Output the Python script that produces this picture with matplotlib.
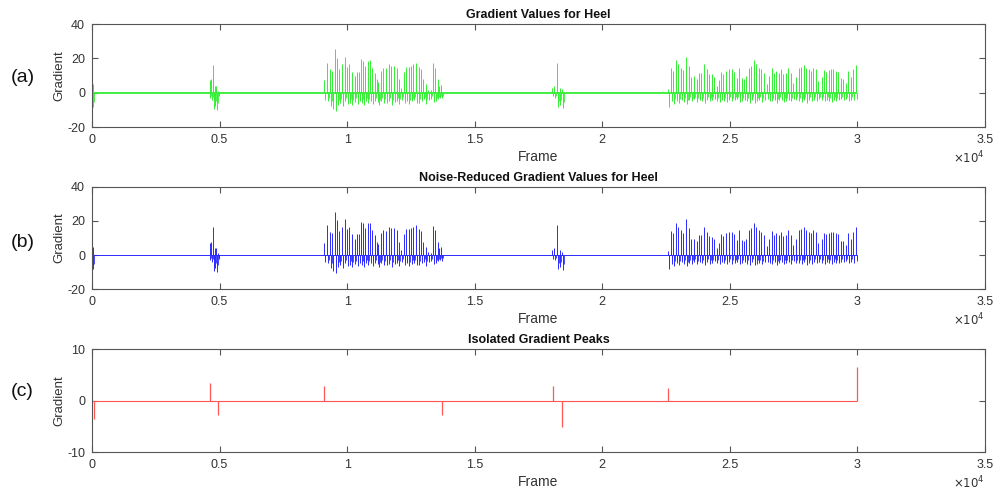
import numpy as np
import matplotlib
matplotlib.use("Agg")
import matplotlib.pyplot as plt

plt.rcParams['font.family'] = ['Liberation Sans', 'DejaVu Sans']

# ---- heel gradient data (frame, positive peak, negative dip) ----
n_frames = 30000

start_frames = [27]
start_peaks = [5.0]
start_dips = [8.4]

cluster1_frames = [4612, 4677, 4742, 4808, 4873, 4938]
cluster1_peaks = [7.2, 7.8, 16.2, 3.9, 3.9, 1.0]
cluster1_dips = [3.0, 4.0, 9.2, 7.8, 9.7, 2.0]

burst1_frames = [9093, 9223, 9341, 9406, 9524, 9615, 9693, 9798, 9903, 9994,
                 10085, 10177, 10294, 10386, 10464, 10556, 10621, 10713, 10804, 10895,
                 10974, 11078, 11169, 11222, 11313, 11417, 11522, 11626, 11731, 11835,
                 11940, 12018, 12123, 12227, 12306, 12410, 12515, 12593, 12698, 12802,
                 12893, 12985, 13076, 13168, 13272, 13364, 13455, 13547, 13612, 13690]
burst1_peaks = [7.2, 17.5, 13.6, 12.7, 25.3, 20.5, 14.0, 16.6, 20.9, 15.0,
                16.6, 12.3, 9.7, 12.1, 12.1, 19.5, 18.5, 15.6, 18.5, 18.9,
                14.6, 11.7, 7.8, 6.2, 12.7, 14.6, 14.2, 16.6, 15.6, 15.6,
                14.6, 7.8, 2.9, 12.1, 15.0, 15.0, 15.6, 16.6, 17.5, 15.0,
                14.0, 7.8, 4.9, 1.9, 1.5, 17.2, 14.6, 7.8, 3.9, 4.5]
burst1_dips = [3.9, 4.9, 7.8, 9.2, 10.7, 7.2, 5.8, 7.8, 4.9, 6.4,
               5.8, 7.2, 5.3, 6.4, 4.9, 5.8, 7.2, 4.9, 5.8, 4.9,
               6.4, 4.9, 5.3, 7.2, 4.9, 5.8, 6.0, 5.0, 6.8, 5.2,
               4.6, 6.2, 4.0, 5.6, 4.8, 6.6, 5.0, 4.4, 5.8, 6.0,
               4.5, 3.8, 6.2, 4.0, 3.5, 5.4, 4.6, 3.6, 3.0, 3.2]

cluster2_frames = [18030, 18120, 18236, 18330, 18430]
cluster2_peaks = [3.0, 4.0, 17.5, 3.0, 2.0]
cluster2_dips = [2.0, 3.0, 8.0, 7.0, 9.0]

burst2_frames = [22574, 22692, 22783, 22887, 22979, 23083, 23175, 23292, 23384, 23488,
                 23580, 23697, 23789, 23880, 23985, 24089, 24194, 24285, 24377, 24481,
                 24573, 24651, 24742, 24847, 24951, 25069, 25173, 25265, 25356, 25461,
                 25552, 25644, 25748, 25840, 25944, 26035, 26127, 26231, 26336, 26453,
                 26532, 26636, 26728, 26819, 26911, 27002, 27093, 27185, 27276, 27381,
                 27472, 27577, 27694, 27799, 27890, 27982, 28086, 28178, 28269, 28374,
                 28465, 28596, 28687, 28779, 28870, 28962, 29053, 29144, 29236, 29341,
                 29432, 29536, 29628, 29732, 29824, 29941]
burst2_peaks = [2.5, 14.2, 12.7, 18.9, 16.6, 14.6, 13.1, 21.0, 15.6, 9.2,
                9.7, 8.2, 11.7, 11.7, 16.6, 13.6, 11.1, 10.7, 9.2, 3.9,
                7.2, 12.3, 11.1, 12.7, 13.6, 13.6, 12.1, 8.8, 14.6, 8.8,
                8.2, 9.7, 14.6, 15.6, 18.9, 16.6, 14.6, 13.6, 11.7, 5.3,
                9.7, 14.2, 11.7, 12.7, 11.7, 13.6, 11.1, 11.7, 14.6, 11.7,
                5.8, 9.2, 14.6, 15.0, 16.2, 14.6, 13.6, 12.7, 14.6, 13.6,
                6.8, 9.2, 13.1, 12.1, 13.1, 13.6, 13.6, 12.7, 12.1, 8.4,
                8.2, 5.8, 12.7, 9.2, 13.6, 16.2]
burst2_dips = [8.4, 5.0, 6.2, 4.5, 5.6, 4.0, 5.2, 6.6, 4.4, 5.0,
               3.8, 5.4, 4.2, 4.8, 5.6, 4.0, 5.0, 4.4, 3.6, 4.6,
               5.2, 4.0, 4.8, 5.4, 4.2, 5.0, 4.4, 3.8, 5.2, 4.6,
               4.0, 5.0, 5.6, 4.2, 6.0, 5.0, 4.4, 5.4, 4.0, 3.8,
               4.6, 5.0, 4.2, 5.6, 4.4, 4.0, 5.2, 4.6, 4.0, 5.0,
               3.6, 4.4, 4.8, 5.2, 4.0, 5.6, 4.4, 5.0, 4.2, 4.6,
               3.8, 4.4, 5.0, 4.2, 4.8, 5.4, 4.0, 4.6, 4.4, 3.8,
               4.0, 3.6, 4.6, 4.0, 4.4, 3.4]

# ---- isolated peaks ----
peak_frames = [80, 4625, 4953, 9107, 13733, 18071, 18437, 22593, 29974]
peak_values = [-3.6, 3.4, -2.8, 2.8, -2.7, 2.8, -5.1, 2.5, 6.5]

x_ticks = [0, 5000, 10000, 15000, 20000, 25000, 30000, 35000]
x_tick_labels = ['0', '0.5', '1', '1.5', '2', '2.5', '3', '3.5']

frames = np.array(start_frames + cluster1_frames + burst1_frames + cluster2_frames + burst2_frames)
peaks = np.array(start_peaks + cluster1_peaks + burst1_peaks + cluster2_peaks + burst2_peaks)
dips = np.array(start_dips + cluster1_dips + burst1_dips + cluster2_dips + burst2_dips)

fig = plt.figure(figsize=(9.95, 4.91), dpi=100)
left, width = 92 / 995, 893 / 995
axes_specs = [
    (1 - 127.3 / 491, 103.3 / 491),
    (1 - 289.3 / 491, 102.6 / 491),
    (1 - 452.3 / 491, 103.3 / 491),
]
axs = [fig.add_axes([left, b, width, h]) for b, h in axes_specs]

edge = '#555555'
tick_col = '#333333'


def style(ax, yticks, ylim, title, letter, letter_y):
    ax.set_xlim(0, 35000)
    ax.set_ylim(*ylim)
    ax.set_xticks(x_ticks)
    ax.set_xticklabels(x_tick_labels)
    ax.set_yticks(yticks)
    ax.set_yticklabels([str(v) for v in yticks])
    ax.tick_params(direction='in', length=4, width=0.8, colors=edge,
                   labelcolor=tick_col, labelsize=9, top=True, right=True, pad=5)
    for s in ax.spines.values():
        s.set_color(edge)
        s.set_linewidth(0.8)
    ax.set_title(title, fontsize=9, fontweight='bold', color='#111111', pad=4)
    ax.set_xlabel('Frame', fontsize=10, color=tick_col, labelpad=3)
    ax.set_ylabel('Gradient', fontsize=9.5, color=tick_col, labelpad=1)
    ax.text(1.0, -0.215, r'$\times10^{4}$', transform=ax.transAxes, ha='right',
            va='top', fontsize=8.5, color=tick_col)
    ax.text(-0.078, letter_y, letter, transform=ax.transAxes, ha='center',
            va='center', fontsize=14, color='#111111')


def draw_signal(ax, color, base_lw):
    ax.hlines(0, 0, n_frames, color=color, lw=base_lw)
    ax.vlines(frames, 0, peaks, color=color, lw=0.7)
    ax.vlines(frames + 30, -dips, 0, color=color, lw=0.7)
    ax.vlines(frames + 55, -0.6 * dips, 0, color=color, lw=0.6)


draw_signal(axs[0], '#33ee33', 1.3)
style(axs[0], [-20, 0, 20, 40], (-20, 40), 'Gradient Values for Heel', '(a)', 0.48)

draw_signal(axs[1], '#2a2aff', 0.7)
style(axs[1], [-20, 0, 20, 40], (-20, 40), 'Noise-Reduced Gradient Values for Heel', '(b)', 0.46)

ax = axs[2]
ax.hlines(0, 0, n_frames, color='#ff5555', lw=0.8)
ax.vlines(peak_frames, 0, peak_values, color='#ff5555', lw=0.9)
style(ax, [-10, 0, 10], (-10, 10), 'Isolated Gradient Peaks', '(c)', 0.59)

fig.savefig('out.png', dpi=100)
